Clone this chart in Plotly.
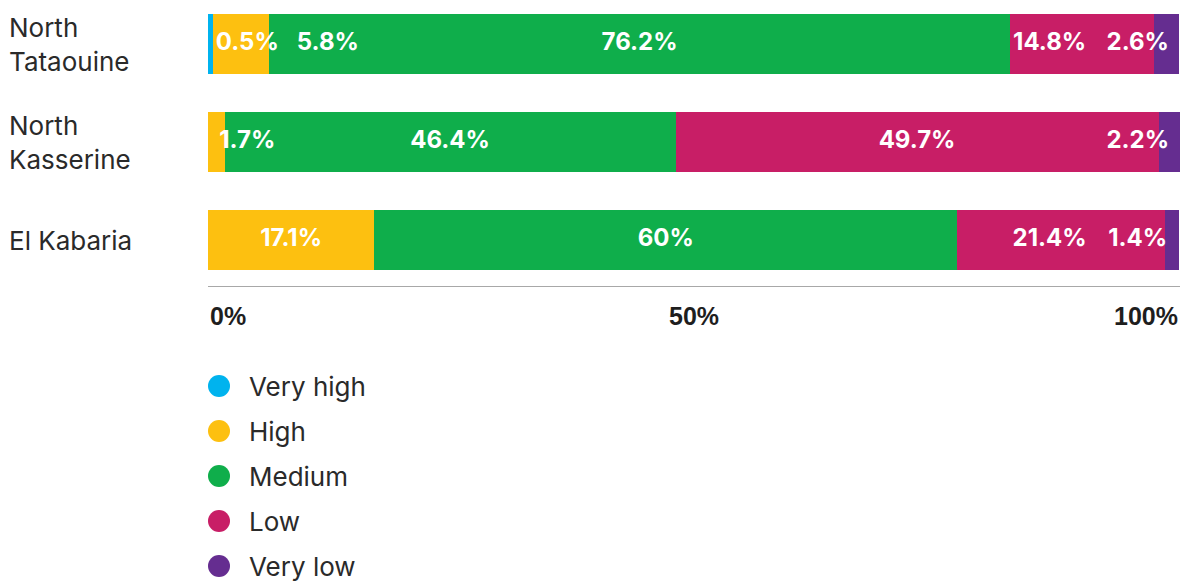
import plotly.graph_objects as go

# ---- data -------------------------------------------------------------
categories = ["North<br>Tataouine", "North<br>Kasserine", "El Kabaria"]
levels = ["Very high", "High", "Medium", "Low", "Very low"]
very_high = [0.5, 0, 0]
high = [5.8, 1.7, 17.1]
medium = [76.2, 46.4, 60]
low = [14.8, 49.7, 21.4]
very_low = [2.6, 2.2, 1.4]
axis_ticks = [0, 50, 100]
axis_tick_labels = ["0%", "50%", "100%"]

series = [very_high, high, medium, low, very_low]
colors = ["#00b3ee", "#fdc010", "#0fae4b", "#c81e66", "#652d90"]

# ---- layout constants (pixels) ----------------------------------------
W, H = 1181, 583
PLOT_L, PLOT_R = 208, 1180
ROW0_Y, ROW_STEP = 44, 98          # centre of first bar, distance between bars
AXIS_Y = 286                       # baseline of the value axis
BAR_PX = 60
FONT = "Inter"
LABEL_SIZE = 24
NAME_SIZE = 26
TEXT_COLOR = "#2a2a2a"

unit_px = (PLOT_R - PLOT_L) / 100.0


def label_width(s, size=LABEL_SIZE):
    """Rough rendered width of a bold percentage label, in pixels."""
    em = {".": 0.30, "%": 0.88}
    return sum(em.get(ch, 0.63) for ch in s) * size


def fmt(v):
    return f"{v:g}%"


def place_labels(values, pad_left=10, pad_right=13, gap=22):
    """Centre each label on its segment, then push apart / clamp to the bar."""
    items = []
    start = 0.0
    for v in values:
        if v > 0:
            text = fmt(v)
            items.append([text, (start + v / 2) * unit_px, label_width(text)])
        start += v
    # forward pass: keep clear of the left edge and of the previous label
    for k, it in enumerate(items):
        lo = pad_left + it[2] / 2 if k == 0 else items[k - 1][1] + items[k - 1][2] / 2 + gap + it[2] / 2
        it[1] = max(it[1], lo)
    # backward pass: keep inside the right end of the bar
    for k in range(len(items) - 1, -1, -1):
        it = items[k]
        hi = (100 * unit_px - pad_right - it[2] / 2) if k == len(items) - 1 else items[k + 1][1] - items[k + 1][2] / 2 - gap - it[2] / 2
        it[1] = min(it[1], hi)
    return [(t, x / unit_px) for t, x, _ in items]


fig = go.Figure()

# stacked horizontal bars
for name, vals, col in zip(levels, series, colors):
    fig.add_trace(go.Bar(
        y=categories, x=vals, name=name, orientation="h",
        marker=dict(color=col, line=dict(width=0)),
        width=BAR_PX / ROW_STEP, showlegend=False, hoverinfo="skip",
    ))

# value labels inside the bars
for i, cat in enumerate(categories):
    row = [s[i] for s in series]
    placed = place_labels(row)
    fig.add_trace(go.Scatter(
        x=[p[1] for p in placed], y=[cat] * len(placed),
        text=[p[0] for p in placed], mode="text", textposition="middle center",
        textfont=dict(family=FONT, size=LABEL_SIZE, color="white", weight="bold"),
        showlegend=False, hoverinfo="skip",
    ))

# category names, left aligned at the page edge
for cat in categories:
    fig.add_annotation(
        x=7 / W, xref="paper", xanchor="left", y=cat, yref="y", yanchor="middle",
        text=cat, align="left", showarrow=False,
        font=dict(family=FONT, size=NAME_SIZE, color=TEXT_COLOR),
    )

# value-axis labels: first left aligned, middle centred, last right aligned
anchors = ["left"] + ["center"] * (len(axis_ticks) - 2) + ["right"]
for v, t, a in zip(axis_ticks, axis_tick_labels, anchors):
    fig.add_annotation(
        x=v, xref="x", xanchor=a, y=1 - 315.5 / H, yref="paper", yanchor="middle",
        text=t, showarrow=False,
        font=dict(family="Liberation Sans", size=25, color="#1e1e1e", weight="bold"),
    )

# legend drawn as a small marker column on its own axes
LEG_X, LEG_Y0, LEG_STEP = 219, 386, 45
fig.add_trace(go.Scatter(
    x=[0] * len(levels), y=list(range(len(levels))), mode="markers",
    marker=dict(size=22, color=colors, line=dict(width=0)),
    xaxis="x2", yaxis="y2", showlegend=False, hoverinfo="skip",
))
for k, name in enumerate(levels):
    fig.add_annotation(
        x=29, xref="x2", xanchor="left", y=k, yref="y2", yanchor="middle",
        text=name, showarrow=False, borderpad=0,
        font=dict(family=FONT, size=NAME_SIZE, color=TEXT_COLOR),
    )

y_top = (0 - ROW0_Y) / ROW_STEP
y_bot = (AXIS_Y - ROW0_Y) / ROW_STEP
leg_top = LEG_Y0 - LEG_STEP / 2
leg_bot_val = (H - LEG_Y0) / LEG_STEP

fig.update_layout(
    width=W, height=H, margin=dict(l=0, r=0, t=0, b=0),
    paper_bgcolor="white", plot_bgcolor="white",
    barmode="stack", bargap=0,
    xaxis=dict(range=[0, 100], domain=[PLOT_L / W, PLOT_R / W],
               showgrid=False, zeroline=False, showticklabels=False, ticks="",
               showline=True, linecolor="#a8a8a8", linewidth=1, fixedrange=True),
    yaxis=dict(type="category", range=[y_bot, y_top],
               domain=[1 - AXIS_Y / H, 1],
               showgrid=False, zeroline=False, showticklabels=False, ticks="",
               showline=False, fixedrange=True),
    xaxis2=dict(domain=[0, 1], range=[-LEG_X, W - LEG_X], anchor="y2",
                visible=False, fixedrange=True),
    yaxis2=dict(domain=[0, 1 - leg_top / H], range=[leg_bot_val, -0.5], anchor="x2",
                visible=False, fixedrange=True),
    font=dict(family=FONT),
)

fig.write_html("out.html")
